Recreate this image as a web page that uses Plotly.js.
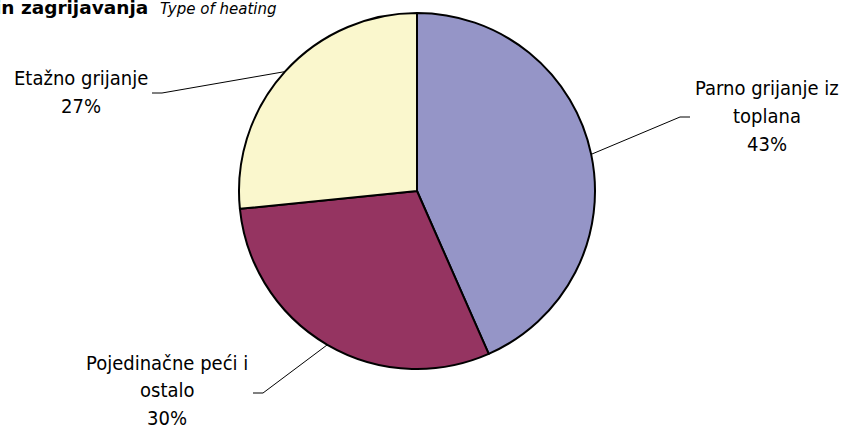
<!DOCTYPE html>
<html>
<head>
<meta charset="utf-8">
<script src="https://cdn.plot.ly/plotly-3.0.1.min.js"></script>
<style>html,body{margin:0;padding:0;background:#fff;}#chart{width:847px;height:430px;}</style>
</head>
<body>
<div id="chart"></div>
<script>
// ---- data ----
const categories = ['Parno grijanje iz toplana', 'Pojedinačne peći i ostalo', 'Etažno grijanje'];
const labelLines = [['Parno grijanje iz', 'toplana'], ['Pojedinačne peći i', 'ostalo'], ['Etažno grijanje']];
const values = [43.4, 30.0, 26.6];
const colors = ['#9595C7', '#953461', '#FAF7CD'];
const titleBold = 'Način zagrijavanja';
const titleItalic = 'Type of heating';

// ---- layout constants ----
const W = 847, H = 430;
const cx = 417, cy = 191, R = 178;
const FONT = 'DejaVu Sans Condensed, DejaVu Sans, sans-serif';
const TFONT = 'DejaVu Sans, Verdana, sans-serif';
const labelPos = [
  {x: 767, y: 116, elbowX: 680, elbowY: 117, endX: 690},
  {x: 167, y: 390, elbowX: 263, elbowY: 393, endX: 253},
  {x: 81,  y: 92,  elbowX: 162, elbowY: 93,  endX: 152}
];
const LINE_GAP = 27.5;

const px = x => x / W;
const py = y => 1 - y / H;

const total = values.reduce((a, b) => a + b, 0);
const annotations = [];
const shapes = [];
let cum = 0;
values.forEach((v, i) => {
  const mid = (cum + v / 2) / total * 2 * Math.PI;
  cum += v;
  const ex = cx + R * Math.sin(mid), ey = cy - R * Math.cos(mid);
  const lp = labelPos[i];
  shapes.push({
    type: 'path', xref: 'paper', yref: 'paper',
    path: `M ${px(ex)} ${py(ey)} L ${px(lp.elbowX)} ${py(lp.elbowY)} L ${px(lp.endX)} ${py(lp.elbowY)}`,
    line: {color: '#000', width: 1}
  });
  const lines = labelLines[i].concat([Math.round(v / total * 100) + '%']);
  const y0 = lp.y - (lines.length - 1) * LINE_GAP / 2;
  lines.forEach((t, k) => {
    annotations.push({
      xref: 'paper', yref: 'paper', x: px(lp.x), y: py(y0 + k * LINE_GAP),
      xanchor: 'center', yanchor: 'middle', showarrow: false, text: t,
      font: {family: FONT, size: 20, color: '#000'}
    });
  });
});

annotations.push({
  xref: 'paper', yref: 'paper', x: px(-46), y: py(7), xanchor: 'left', yanchor: 'middle',
  showarrow: false,
  text: '<b>' + titleBold + '</b>  <i><span style="font-size:15px">' + titleItalic + '</span></i>',
  font: {family: TFONT, size: 18.5, color: '#000'}
});

const trace = {
  type: 'pie',
  labels: categories,
  values: values,
  sort: false,
  direction: 'clockwise',
  rotation: 0,
  textinfo: 'none',
  hoverinfo: 'none',
  marker: {colors: colors, line: {color: '#000', width: 2}},
  domain: {x: [px(cx - R), px(cx + R)], y: [py(cy + R), py(cy - R)]},
  showlegend: false
};

const layout = {
  width: W, height: H,
  margin: {l: 0, r: 0, t: 0, b: 0},
  paper_bgcolor: '#fff', plot_bgcolor: '#fff',
  showlegend: false,
  annotations: annotations,
  shapes: shapes
};

Plotly.newPlot('chart', [trace], layout, {displayModeBar: false, staticPlot: true});
</script>
</body>
</html>
